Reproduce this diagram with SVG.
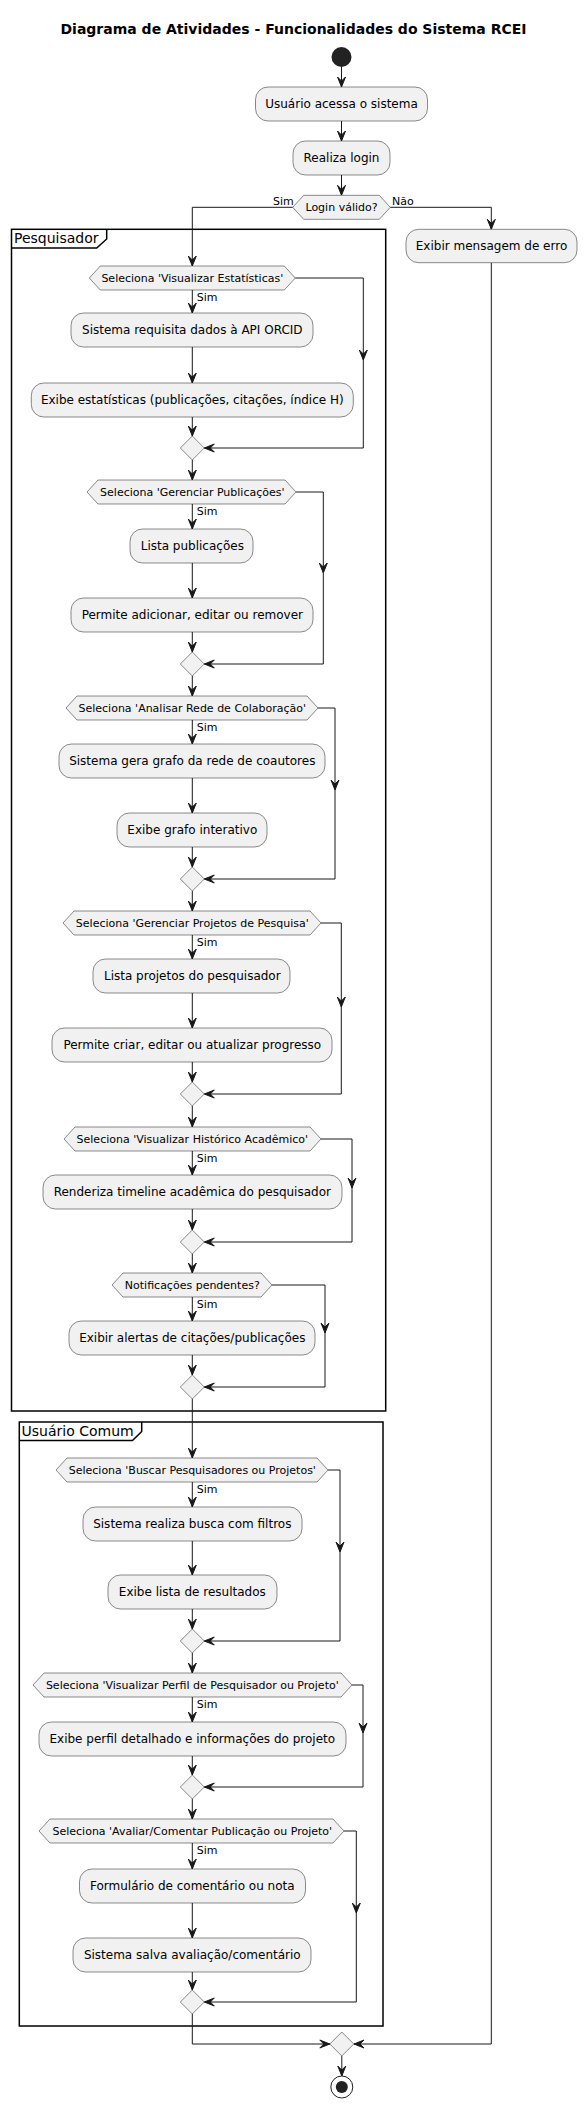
<svg xmlns="http://www.w3.org/2000/svg" width="587" height="2108" viewBox="0 0 587 2108">
<style>
text{font-family:"DejaVu Sans","Liberation Sans",sans-serif;fill:#000}
.t{font-size:12px;text-anchor:middle}
.d{font-size:11px;text-anchor:middle}
.l{font-size:11px}
.p{font-size:14px}
.title{font-size:14px;font-weight:bold;text-anchor:middle}
.box{fill:#F1F1F1;stroke:#181818;stroke-width:0.5}
.frame{fill:none;stroke:#000;stroke-width:1.5}
.ln{fill:none;stroke:#181818;stroke-width:1}
.ah{fill:#181818;stroke:#181818;stroke-width:1}
</style>
<defs>
<path id="ad" d="M-4,-10 L0,0 L4,-10 L0,-6 Z"/>
<path id="al" d="M10,-4 L0,0 L10,4 L6,0 Z"/>
<path id="ar" d="M-10,-4 L0,0 L-10,4 L-6,0 Z"/>
</defs>
<rect width="587" height="2108" fill="#FFFFFF"/>
<text class="title" x="293.5" y="34">Diagrama de Atividades - Funcionalidades do Sistema RCEI</text>

<g id="partition-pesquisador">
<rect class="frame" x="11.5" y="229.3" width="374.2" height="1181.7"/>
<path class="frame" d="M11.5,248 L96.7,248 L106.7,239 L106.7,229.3"/>
<text class="p" x="14" y="243">Pesquisador</text>
</g>
<g id="partition-usuario-comum">
<rect class="frame" x="19.3" y="1422" width="363.7" height="604"/>
<path class="frame" d="M19.3,1440.5 L132.5,1440.5 L141.7,1431.5 L141.7,1422"/>
<text class="p" x="21.5" y="1436">Usuário Comum</text>
</g>

<g id="connectors">
<path class="ln" d="M341.5,67 V87"/><use href="#ad" x="341.5" y="87" class="ah"/>
<path class="ln" d="M341.5,121 V141"/><use href="#ad" x="341.5" y="141" class="ah"/>
<path class="ln" d="M341.5,175 V195.3"/><use href="#ad" x="341.5" y="195.3" class="ah"/>
<path class="ln" d="M292.7,207.3 H192.3 V266"/><use href="#ad" x="192.3" y="266" class="ah"/>
<path class="ln" d="M390.3,207.3 H491.3 V229.3"/><use href="#ad" x="491.3" y="229.3" class="ah"/>
<path class="ln" d="M491.3,262.7 V2044 H354"/><use href="#al" x="354" y="2044" class="ah"/>
<text class="l" x="273" y="205">Sim</text>
<text class="l" x="392" y="205">Não</text>

<!-- Dec1 -->
<path class="ln" d="M192.3,290 V313"/><use href="#ad" x="192.3" y="313" class="ah"/>
<path class="ln" d="M192.3,347 V383"/><use href="#ad" x="192.3" y="383" class="ah"/>
<path class="ln" d="M192.3,417 V436"/><use href="#ad" x="192.3" y="436" class="ah"/>
<path class="ln" d="M295.3,278 H363.3 V448 H204.3"/><use href="#ad" x="363.3" y="360" class="ah"/><use href="#al" x="204.3" y="448" class="ah"/>
<text class="l" x="196.7" y="301">Sim</text>
<path class="ln" d="M192.3,460 V480"/><use href="#ad" x="192.3" y="480" class="ah"/>
<!-- Dec2 -->
<path class="ln" d="M192.3,504 V529"/><use href="#ad" x="192.3" y="529" class="ah"/>
<path class="ln" d="M192.3,563 V598"/><use href="#ad" x="192.3" y="598" class="ah"/>
<path class="ln" d="M192.3,632 V652"/><use href="#ad" x="192.3" y="652" class="ah"/>
<path class="ln" d="M296,492 H323.3 V664 H204.3"/><use href="#ad" x="323.3" y="573" class="ah"/><use href="#al" x="204.3" y="664" class="ah"/>
<text class="l" x="196.7" y="515">Sim</text>
<path class="ln" d="M192.3,676 V696"/><use href="#ad" x="192.3" y="696" class="ah"/>
<!-- Dec3 -->
<path class="ln" d="M192.3,720 V744"/><use href="#ad" x="192.3" y="744" class="ah"/>
<path class="ln" d="M192.3,778 V813"/><use href="#ad" x="192.3" y="813" class="ah"/>
<path class="ln" d="M192.3,847 V867"/><use href="#ad" x="192.3" y="867" class="ah"/>
<path class="ln" d="M318,708 H335 V879 H204.3"/><use href="#ad" x="335" y="790" class="ah"/><use href="#al" x="204.3" y="879" class="ah"/>
<text class="l" x="196.7" y="731">Sim</text>
<path class="ln" d="M192.3,891 V911"/><use href="#ad" x="192.3" y="911" class="ah"/>
<!-- Dec4 -->
<path class="ln" d="M192.3,935 V959"/><use href="#ad" x="192.3" y="959" class="ah"/>
<path class="ln" d="M192.3,993 V1028"/><use href="#ad" x="192.3" y="1028" class="ah"/>
<path class="ln" d="M192.3,1062 V1082"/><use href="#ad" x="192.3" y="1082" class="ah"/>
<path class="ln" d="M321,923 H341.3 V1094 H204.3"/><use href="#ad" x="341.3" y="1007" class="ah"/><use href="#al" x="204.3" y="1094" class="ah"/>
<text class="l" x="196.7" y="946">Sim</text>
<path class="ln" d="M192.3,1106 V1127"/><use href="#ad" x="192.3" y="1127" class="ah"/>
<!-- Dec5 -->
<path class="ln" d="M192.3,1151 V1175"/><use href="#ad" x="192.3" y="1175" class="ah"/>
<path class="ln" d="M192.3,1209 V1230"/><use href="#ad" x="192.3" y="1230" class="ah"/>
<path class="ln" d="M321,1139 H352 V1242 H204.3"/><use href="#ad" x="352" y="1188" class="ah"/><use href="#al" x="204.3" y="1242" class="ah"/>
<text class="l" x="196.7" y="1162">Sim</text>
<path class="ln" d="M192.3,1254 V1273"/><use href="#ad" x="192.3" y="1273" class="ah"/>
<!-- Dec6 -->
<path class="ln" d="M192.3,1297 V1321"/><use href="#ad" x="192.3" y="1321" class="ah"/>
<path class="ln" d="M192.3,1355 V1375"/><use href="#ad" x="192.3" y="1375" class="ah"/>
<path class="ln" d="M272,1285 H325 V1387 H204.3"/><use href="#ad" x="325" y="1333" class="ah"/><use href="#al" x="204.3" y="1387" class="ah"/>
<text class="l" x="196.7" y="1308">Sim</text>
<path class="ln" d="M192.3,1399 V1458"/><use href="#ad" x="192.3" y="1458" class="ah"/>
<!-- Dec7 -->
<path class="ln" d="M192.3,1482 V1507"/><use href="#ad" x="192.3" y="1507" class="ah"/>
<path class="ln" d="M192.3,1541 V1575"/><use href="#ad" x="192.3" y="1575" class="ah"/>
<path class="ln" d="M192.3,1609 V1629"/><use href="#ad" x="192.3" y="1629" class="ah"/>
<path class="ln" d="M328,1470 H340 V1641 H204.3"/><use href="#ad" x="340" y="1552" class="ah"/><use href="#al" x="204.3" y="1641" class="ah"/>
<text class="l" x="196.7" y="1493">Sim</text>
<path class="ln" d="M192.3,1653 V1673"/><use href="#ad" x="192.3" y="1673" class="ah"/>
<!-- Dec8 -->
<path class="ln" d="M192.3,1697 V1722"/><use href="#ad" x="192.3" y="1722" class="ah"/>
<path class="ln" d="M192.3,1756 V1775"/><use href="#ad" x="192.3" y="1775" class="ah"/>
<path class="ln" d="M352,1685 H363 V1787 H204.3"/><use href="#ad" x="363" y="1733" class="ah"/><use href="#al" x="204.3" y="1787" class="ah"/>
<text class="l" x="196.7" y="1708">Sim</text>
<path class="ln" d="M192.3,1799 V1819"/><use href="#ad" x="192.3" y="1819" class="ah"/>
<!-- Dec9 -->
<path class="ln" d="M192.3,1843 V1869"/><use href="#ad" x="192.3" y="1869" class="ah"/>
<path class="ln" d="M192.3,1903 V1938"/><use href="#ad" x="192.3" y="1938" class="ah"/>
<path class="ln" d="M192.3,1972 V1990"/><use href="#ad" x="192.3" y="1990" class="ah"/>
<path class="ln" d="M344,1831 H356.3 V2002 H204.3"/><use href="#ad" x="356.3" y="1913" class="ah"/><use href="#al" x="204.3" y="2002" class="ah"/>
<text class="l" x="196.7" y="1854">Sim</text>
<!-- final -->
<path class="ln" d="M192.3,2014 V2044 H329.8"/><use href="#ar" x="329.8" y="2044" class="ah"/>
<path class="ln" d="M341.8,2056 V2076"/><use href="#ad" x="341.8" y="2076" class="ah"/>
</g>

<g id="start"><circle cx="341.5" cy="57" r="10" fill="#222222"/></g>
<g id="n-acessa"><rect class="box" x="255.5" y="87" width="172" height="34" rx="12.5"/><text class="t" x="341.5" y="108.2">Usuário acessa o sistema</text></g>
<g id="n-login"><rect class="box" x="293" y="141" width="97" height="34" rx="12.5"/><text class="t" x="341.5" y="162.2">Realiza login</text></g>
<g id="d-login"><polygon class="box" points="292.7,207.3 303.7,195.3 379.3,195.3 390.3,207.3 379.3,219.3 303.7,219.3"/><text class="d" x="341.5" y="211.3">Login válido?</text></g>
<g id="n-erro"><rect class="box" x="406" y="229.3" width="171" height="33.4" rx="12.5"/><text class="t" x="491.5" y="250.2">Exibir mensagem de erro</text></g>

<g id="d-estat"><polygon class="box" points="89.3,278 100.3,266 284.3,266 295.3,278 284.3,290 100.3,290"/><text class="d" x="192.3" y="282">Seleciona 'Visualizar Estatísticas'</text></g>
<g id="n-orcid"><rect class="box" x="71" y="313" width="242" height="34" rx="12.5"/><text class="t" x="192.3" y="334.2">Sistema requisita dados à API ORCID</text></g>
<g id="n-exibe-estat"><rect class="box" x="31.3" y="383" width="322" height="34" rx="12.5"/><text class="t" x="192.3" y="404.2">Exibe estatísticas (publicações, citações, índice H)</text></g>
<g id="m1"><polygon class="box" points="192.3,436 204.3,448 192.3,460 180.3,448"/></g>

<g id="d-pub"><polygon class="box" points="87,492 98,480 285,480 296,492 285,504 98,504"/><text class="d" x="192.3" y="496">Seleciona 'Gerenciar Publicações'</text></g>
<g id="n-lista-pub"><rect class="box" x="130" y="529" width="123" height="34" rx="12.5"/><text class="t" x="192.3" y="550.2">Lista publicações</text></g>
<g id="n-permite-pub"><rect class="box" x="71" y="598" width="242" height="34" rx="12.5"/><text class="t" x="192.3" y="619.2">Permite adicionar, editar ou remover</text></g>
<g id="m2"><polygon class="box" points="192.3,652 204.3,664 192.3,676 180.3,664"/></g>

<g id="d-rede"><polygon class="box" points="66,708 77,696 307,696 318,708 307,720 77,720"/><text class="d" x="192.3" y="712">Seleciona 'Analisar Rede de Colaboração'</text></g>
<g id="n-grafo"><rect class="box" x="59" y="744" width="266" height="34" rx="12.5"/><text class="t" x="192.3" y="765.2">Sistema gera grafo da rede de coautores</text></g>
<g id="n-grafo-int"><rect class="box" x="117" y="813" width="150" height="34" rx="12.5"/><text class="t" x="192.3" y="834.2">Exibe grafo interativo</text></g>
<g id="m3"><polygon class="box" points="192.3,867 204.3,879 192.3,891 180.3,879"/></g>

<g id="d-proj"><polygon class="box" points="63,923 74,911 310,911 321,923 310,935 74,935"/><text class="d" x="192.3" y="927">Seleciona 'Gerenciar Projetos de Pesquisa'</text></g>
<g id="n-lista-proj"><rect class="box" x="93" y="959" width="197" height="34" rx="12.5"/><text class="t" x="192.3" y="980.2">Lista projetos do pesquisador</text></g>
<g id="n-permite-proj"><rect class="box" x="52" y="1028" width="280" height="34" rx="12.5"/><text class="t" x="192.3" y="1049.2">Permite criar, editar ou atualizar progresso</text></g>
<g id="m4"><polygon class="box" points="192.3,1082 204.3,1094 192.3,1106 180.3,1094"/></g>

<g id="d-hist"><polygon class="box" points="64,1139 75,1127 310,1127 321,1139 310,1151 75,1151"/><text class="d" x="192.3" y="1143">Seleciona 'Visualizar Histórico Acadêmico'</text></g>
<g id="n-timeline"><rect class="box" x="43" y="1175" width="299" height="34" rx="12.5"/><text class="t" x="192.3" y="1196.2">Renderiza timeline acadêmica do pesquisador</text></g>
<g id="m5"><polygon class="box" points="192.3,1230 204.3,1242 192.3,1254 180.3,1242"/></g>

<g id="d-notif"><polygon class="box" points="112,1285 123,1273 261,1273 272,1285 261,1297 123,1297"/><text class="d" x="192.3" y="1289">Notificações pendentes?</text></g>
<g id="n-alertas"><rect class="box" x="69" y="1321" width="246" height="34" rx="12.5"/><text class="t" x="192.3" y="1342.2">Exibir alertas de citações/publicações</text></g>
<g id="m6"><polygon class="box" points="192.3,1375 204.3,1387 192.3,1399 180.3,1387"/></g>

<g id="d-buscar"><polygon class="box" points="56,1470 67,1458 317,1458 328,1470 317,1482 67,1482"/><text class="d" x="192.3" y="1474">Seleciona 'Buscar Pesquisadores ou Projetos'</text></g>
<g id="n-busca"><rect class="box" x="83" y="1507" width="219" height="34" rx="12.5"/><text class="t" x="192.3" y="1528.2">Sistema realiza busca com filtros</text></g>
<g id="n-resultados"><rect class="box" x="108" y="1575" width="169" height="34" rx="12.5"/><text class="t" x="192.3" y="1596.2">Exibe lista de resultados</text></g>
<g id="m7"><polygon class="box" points="192.3,1629 204.3,1641 192.3,1653 180.3,1641"/></g>

<g id="d-perfil"><polygon class="box" points="33,1685 44,1673 341,1673 352,1685 341,1697 44,1697"/><text class="d" x="192.3" y="1689">Seleciona 'Visualizar Perfil de Pesquisador ou Projeto'</text></g>
<g id="n-perfil"><rect class="box" x="39" y="1722" width="307" height="34" rx="12.5"/><text class="t" x="192.3" y="1743.2">Exibe perfil detalhado e informações do projeto</text></g>
<g id="m8"><polygon class="box" points="192.3,1775 204.3,1787 192.3,1799 180.3,1787"/></g>

<g id="d-avaliar"><polygon class="box" points="39,1831 50,1819 333,1819 344,1831 333,1843 50,1843"/><text class="d" x="192.3" y="1835">Seleciona 'Avaliar/Comentar Publicação ou Projeto'</text></g>
<g id="n-form"><rect class="box" x="79.5" y="1869" width="226" height="34" rx="12.5"/><text class="t" x="192.3" y="1890.2">Formulário de comentário ou nota</text></g>
<g id="n-salva"><rect class="box" x="73" y="1938" width="238" height="34" rx="12.5"/><text class="t" x="192.3" y="1959.2">Sistema salva avaliação/comentário</text></g>
<g id="m9"><polygon class="box" points="192.3,1990 204.3,2002 192.3,2014 180.3,2002"/></g>

<g id="m-final"><polygon class="box" points="341.8,2032 353.8,2044 341.8,2056 329.8,2044"/></g>
<g id="end"><circle cx="341.8" cy="2087" r="11" fill="none" stroke="#222222" stroke-width="1"/><circle cx="341.8" cy="2087" r="6" fill="#222222"/></g>
</svg>
